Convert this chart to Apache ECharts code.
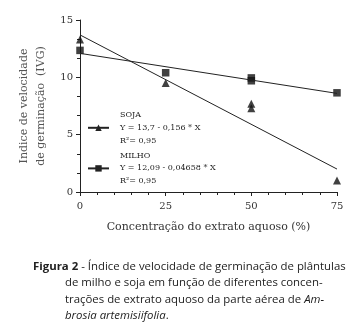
<!DOCTYPE html>
<html><head><meta charset="utf-8">
<script src="https://cdn.jsdelivr.net/npm/echarts@6/dist/echarts.min.js"></script>
<style>html,body{margin:0;padding:0;background:#fff}#c{width:363px;height:333px}</style>
</head><body><div id="c"></div>
<script>
// Data
var concentrations = [0, 25, 50, 50, 75];
var sojaIVG = [13.3, 9.5, 7.7, 7.3, 1.0];
var milhoIVG = [12.35, 10.4, 9.95, 9.7, 8.65];
// regression lines (end points at x = 0 and x = 75)
var fitX = [0, 75];
var sojaFit = [13.7, 2.0];
var milhoFit = [12.09, 8.6];
var xTicks = [0, 25, 50, 75];
var yTicks = [0, 5, 10, 15];
var sojaLegend = ['SOJA', 'Y = 13,7 - 0,156 * X', 'R²= 0,95'];
var milhoLegend = ['MILHO', 'Y = 12,09 - 0,04658 * X', 'R²= 0,95'];
var captionLines = [
  '{b|Figura 2} - Índice de velocidade de germinação de plântulas',
  'de milho e soja em função de diferentes concen-',
  'trações de extrato aquoso da parte aérea de {i|Am-}',
  '{i|brosia artemisiifolia}.'
];

function pairs(xs, ys){ return xs.map(function(x,i){ return [x, ys[i]]; }); }

var serif = 'DejaVu Serif';
var ink = '#222';
var chart = echarts.init(document.getElementById('c'), null, {renderer:'canvas'});
var legendMap = {SOJA: sojaLegend, MILHO: milhoLegend};
var capFont = 11.4;

chart.setOption({
  animation: false,
  backgroundColor: '#fff',
  grid: {left: 80, right: 26, top: 20, bottom: 141, containLabel: false},
  xAxis: {
    type: 'value', min: 0, max: 75, interval: 25,
    name: 'Concentração do extrato aquoso (%)', nameLocation: 'middle', nameGap: 30,
    nameTextStyle: {fontFamily: serif, fontSize: 11, color: '#333'},
    axisLine: {lineStyle: {color: ink, width: 1}},
    axisTick: {show: true, inside: false, length: 4, lineStyle: {color: ink}},
    minorTick: {show: true, splitNumber: 5, length: 3, lineStyle: {color: ink}},
    splitLine: {show: false},
    axisLabel: {fontFamily: serif, fontSize: 10, color: '#333', margin: 9,
      formatter: function(v){ return xTicks.indexOf(v) >= 0 ? String(v) : ''; }}
  },
  yAxis: {
    type: 'value', min: 0, max: 15, interval: 5,
    name: 'Indice de velocidade\nde germinação  (IVG)', nameLocation: 'middle', nameGap: 19,
    nameTextStyle: {fontFamily: serif, fontSize: 11, color: '#555', lineHeight: 17},
    axisLine: {show: true, lineStyle: {color: ink, width: 1}},
    axisTick: {show: true, inside: false, length: 4, lineStyle: {color: ink}},
    minorTick: {show: true, splitNumber: 3, length: 3, lineStyle: {color: ink}},
    splitLine: {show: false},
    axisLabel: {fontFamily: serif, fontSize: 10, color: '#333', margin: 7,
      formatter: function(v){ return yTicks.indexOf(v) >= 0 ? String(v) : ''; }}
  },
  legend: {
    orient: 'vertical', left: 82, top: 106, itemWidth: 21, itemHeight: 8, itemGap: 7,
    data: ['SOJA', 'MILHO'],
    selectedMode: false,
    formatter: function(name){
      var l = legendMap[name];
      return '{t|' + l[0] + '}\n{e|' + l[1] + '}\n{e|' + l[2] + '}';
    },
    textStyle: {fontFamily: serif, fontSize: 8, color: '#222', padding: [0,0,0,6],
      rich: {t: {fontFamily: serif, fontSize: 8, lineHeight: 12.8, color: '#222'},
             e: {fontFamily: serif, fontSize: 8, lineHeight: 12.8, color: '#222'}}}
  },
  series: [
    {name: 'SOJA', type: 'line', data: pairs(fitX, sojaFit), symbol: 'triangle', symbolSize: 7,
     showSymbol: false, lineStyle: {color: ink, width: 1}, itemStyle: {color: ink}, silent: true},
    {name: 'MILHO', type: 'line', data: pairs(fitX, milhoFit), symbol: 'rect', symbolSize: 7,
     showSymbol: false, lineStyle: {color: ink, width: 1}, itemStyle: {color: ink}, silent: true},
    {name: 'Soja obs', type: 'scatter', data: pairs(concentrations, sojaIVG), symbol: 'triangle',
     symbolSize: 8, itemStyle: {color: '#111'}},
    {name: 'Milho obs', type: 'scatter', data: pairs(concentrations, milhoIVG), symbol: 'rect',
     symbolSize: 7.5, itemStyle: {color: '#111'}}
  ],
  graphic: captionLines.map(function(t, i){
    return {type: 'text', left: i === 0 ? 33 : 65, top: 261 + i * 16.5,
      style: {text: t, font: capFont + 'px "Open Sans"', fill: '#222',
        rich: {b: {fontFamily: 'Open Sans', fontSize: capFont, fontWeight: 'bold', fill: '#222'},
               i: {fontFamily: 'Open Sans', fontSize: capFont, fontStyle: 'italic', fill: '#222'}}}};
  })
});
</script></body></html>
